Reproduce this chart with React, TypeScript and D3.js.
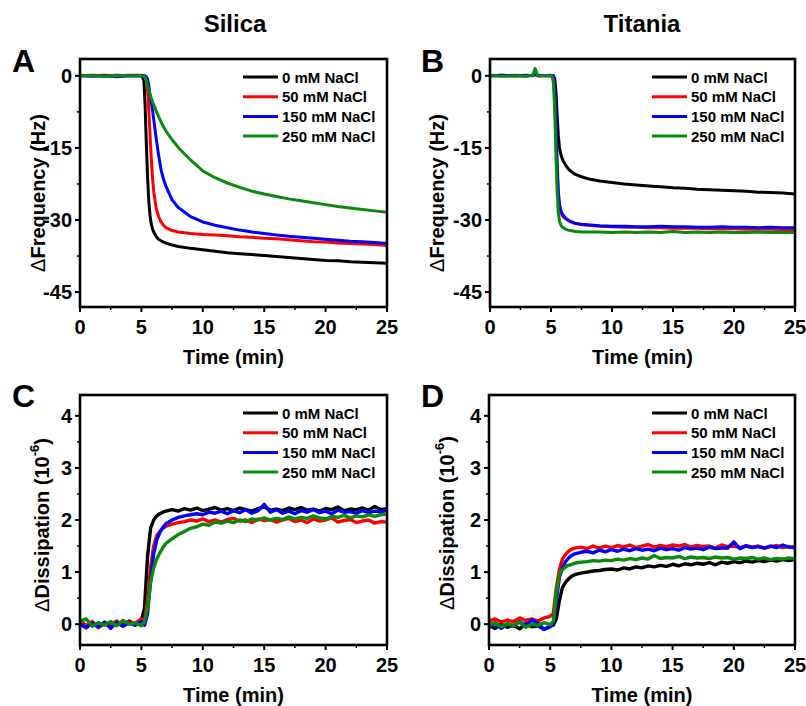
import React, { useEffect, useRef } from "react";
import * as d3 from "d3";

const SERIES_NAMES = ["0 mM NaCl", "50 mM NaCl", "150 mM NaCl", "250 mM NaCl"];
const SERIES_COLORS = ["#000000", "#ff0000", "#0000ff", "#0a8a0a"];

const X_TICKS = [0, 5, 10, 15, 20, 25];
const X_MINOR = [2.5, 7.5, 12.5, 17.5, 22.5];
const FREQ_TICKS = [0, -15, -30, -45];
const FREQ_MINOR = [-7.5, -22.5, -37.5];
const DISS_TICKS = [0, 1, 2, 3, 4];
const DISS_MINOR = [0.5, 1.5, 2.5, 3.5];

// time (min), silica frequency
const T_FREQ_A = [0, 1, 2, 3, 4, 5, 5.1, 5.2, 5.3, 5.4, 5.5, 5.6, 5.7, 5.8, 5.9, 6, 6.2, 6.4, 6.6, 6.8, 7, 7.5, 8, 9, 10,
  11, 12, 13, 14, 15, 16, 17, 18, 19, 20, 21, 22, 23, 24, 25];
const FREQ_A_0 = [0, 0.1, 0, 0.1, 0, 0, -0.3, -1, -6, -14, -21, -26, -29, -30.8, -31.8, -32.5, -33.4, -34.0, -34.3, -34.6, -34.8,
  -35.2, -35.5, -35.9, -36.2, -36.5, -36.8, -37.0, -37.2, -37.4, -37.6, -37.8, -38.0, -38.2, -38.4, -38.5, -38.7, -38.8, -38.9, -39.0];
const FREQ_A_50 = [0.1, 0, 0.1, 0, 0.1, 0.1, 0.1, 0, -0.3, -1, -3, -7, -12, -17, -21, -24, -27.5, -29.3, -30.4, -31.1, -31.6,
  -32.2, -32.5, -32.8, -33.0, -33.1, -33.3, -33.5, -33.6, -33.8, -33.9, -34.1, -34.3, -34.5, -34.6, -34.8, -34.9, -35.0, -35.1, -35.3];
const FREQ_A_150 = [0, -0.1, 0, -0.2, 0, 0, 0, 0, 0, -0.2, -0.6, -2, -4, -5.5, -7, -9, -13, -16.5, -19.5, -21.5, -23,
  -25.8, -27.4, -29.3, -30.4, -31.1, -31.6, -32.1, -32.5, -32.8, -33.1, -33.4, -33.6, -33.8, -34.0, -34.2, -34.4, -34.5, -34.7, -34.9];
const FREQ_A_250 = [0, 0, -0.1, 0, 0, 0, 0, -0.1, -0.3, -1, -2, -3, -3.8, -4.6, -5.3, -6, -7.3, -8.5, -9.6, -10.6, -11.5,
  -13.3, -14.9, -17.5, -19.8, -21.2, -22.3, -23.2, -24.0, -24.6, -25.1, -25.6, -26.0, -26.4, -26.8, -27.2, -27.5, -27.8, -28.1, -28.4];

// time (min), titania frequency
const T_FREQ_B = [0, 1, 2, 3, 3.5, 3.7, 3.9, 4, 5, 5.1, 5.2, 5.3, 5.4, 5.5, 5.6, 5.7, 5.8, 5.9, 6, 6.2, 6.4, 6.6, 6.8, 7, 7.5, 8, 9, 10,
  11, 12, 13, 14, 15, 16, 17, 18, 19, 20, 21, 22, 23, 24, 25];
const FREQ_B_0 = [0, 0.1, 0, 0, 0.1, 0.4, 0.1, 0, 0, 0, 0, -0.5, -3, -8, -12.5, -15, -16.3, -17.1, -17.7, -18.6, -19.3, -19.8, -20.2, -20.5,
  -21.0, -21.4, -21.9, -22.2, -22.5, -22.7, -22.9, -23.1, -23.3, -23.4, -23.6, -23.7, -23.8, -23.9, -24.0, -24.2, -24.3, -24.4, -24.6];
const FREQ_B_50 = [0.1, 0, 0.1, 0, 0.1, 0.3, 0.1, 0, 0.1, 0, -0.5, -4, -12, -20, -25, -27.3, -28.3, -28.9, -29.3, -29.8, -30.1, -30.4, -30.6, -30.7,
  -31.0, -31.1, -31.3, -31.4, -31.5, -31.5, -31.6, -31.6, -31.7, -31.7, -31.7, -31.8, -31.8, -31.8, -31.9, -31.9, -31.9, -32.0, -32.0];
const FREQ_B_150 = [0, 0.1, 0, 0.1, 0, 0.3, 0, 0.1, 0, 0, 0, -2, -9, -18, -24, -26.8, -28, -28.6, -29.0, -29.6, -30.0, -30.3, -30.5, -30.7,
  -30.9, -31.0, -31.2, -31.3, -31.3, -31.4, -31.4, -31.3, -31.4, -31.4, -31.5, -31.5, -31.4, -31.5, -31.5, -31.6, -31.5, -31.6, -31.6];
const FREQ_B_250 = [0, -0.1, 0, -0.1, 0.1, 1.5, 0.1, 0, 0, -0.2, -1.5, -7, -16, -24, -28.5, -30.3, -31.0, -31.4, -31.6, -31.9, -32.1, -32.2, -32.3, -32.4,
  -32.5, -32.5, -32.5, -32.6, -32.5, -32.6, -32.5, -32.6, -32.4, -32.6, -32.5, -32.6, -32.5, -32.6, -32.6, -32.5, -32.6, -32.6, -32.6];

// time (min), dissipation (both substrates)
const T_DISS = [0, 0.5, 1, 1.5, 2, 2.5, 3, 3.5, 4, 4.5, 5, 5.25, 5.5, 5.75, 6, 6.25, 6.5, 6.75, 7,
  7.5, 8, 8.5, 9, 9.5, 10, 10.5, 11, 11.5, 12, 12.5, 13, 13.5, 14, 14.5, 15, 15.5, 16, 16.5, 17, 17.5,
  18, 18.5, 19, 19.5, 20, 20.5, 21, 21.5, 22, 22.5, 23, 23.5, 24, 24.5, 25];
const DISS_C_0 = [0.04, -0.05, 0.03, -0.06, 0.02, -0.04, 0.05, -0.02, 0.06, 0.0, 0.08,
  0.3, 1.3, 1.85, 2.0, 2.08, 2.12, 2.15, 2.17,
  2.2, 2.17, 2.22, 2.19, 2.23, 2.18, 2.21, 2.24, 2.19, 2.22, 2.18, 2.23, 2.2, 2.17, 2.22, 2.25, 2.19, 2.21,
  2.18, 2.23, 2.2, 2.24, 2.19, 2.21, 2.17, 2.22, 2.2, 2.25, 2.18, 2.21, 2.2, 2.23, 2.19, 2.26, 2.2, 2.22];
const DISS_C_50 = [0.08, -0.03, 0.05, -0.07, 0.03, 0.0, 0.06, -0.03, 0.04, 0.02, 0.1,
  0.05, 0.45, 1.1, 1.5, 1.7, 1.78, 1.84, 1.88,
  1.92, 1.95, 1.97, 2.0, 1.98, 2.02, 1.97, 2.0, 1.96, 2.01, 2.03, 1.98, 2.0, 1.95, 2.02, 1.99, 2.01, 1.96,
  2.0, 2.03, 1.97, 2.0, 1.95, 2.02, 1.98, 2.0, 2.04, 1.96, 1.99, 2.01, 1.95, 1.98, 2.0, 1.94, 1.97, 1.96];
const DISS_C_150 = [0.0, -0.07, 0.02, -0.05, 0.04, -0.08, 0.03, -0.04, 0.02, -0.02, 0.05,
  -0.02, 0.2, 0.85, 1.35, 1.62, 1.76, 1.86, 1.93,
  2.0, 2.05, 2.08, 2.1, 2.12, 2.1, 2.15, 2.13, 2.17, 2.12, 2.18, 2.14, 2.2, 2.13, 2.18, 2.3, 2.15, 2.2,
  2.13, 2.17, 2.12, 2.18, 2.15, 2.2, 2.14, 2.17, 2.12, 2.19, 2.15, 2.16, 2.13, 2.18, 2.14, 2.17, 2.15, 2.2];
const DISS_C_250 = [0.06, 0.1, -0.04, 0.03, -0.02, 0.05, -0.03, 0.07, 0.0, 0.02, -0.03,
  0.05, 0.3, 0.8, 1.08, 1.25, 1.37, 1.47, 1.55,
  1.64, 1.72, 1.78, 1.84, 1.87, 1.92, 1.9, 1.96, 1.94, 1.98, 1.95, 2.0, 1.97, 2.02, 2.0, 2.04, 2.0, 2.03,
  2.01, 2.06, 2.02, 2.05, 2.03, 2.08, 2.04, 2.02, 2.07, 2.05, 2.09, 2.04, 2.08, 2.06, 2.1, 2.07, 2.1, 2.12];
const DISS_D_0 = [-0.03, -0.08, 0.0, -0.06, -0.02, -0.09, 0.01, -0.05, -0.03, -0.1, -0.04,
  -0.02, 0.1, 0.45, 0.7, 0.8, 0.87, 0.92, 0.95,
  0.98, 1.0, 1.02, 1.03, 1.05, 1.06, 1.04, 1.08, 1.06, 1.1, 1.08, 1.12, 1.1, 1.13, 1.11, 1.15, 1.12, 1.16,
  1.14, 1.17, 1.15, 1.18, 1.14, 1.19, 1.17, 1.2, 1.18, 1.21, 1.19, 1.22, 1.2, 1.23, 1.21, 1.24, 1.22, 1.24];
const DISS_D_50 = [0.06, 0.1, 0.04, 0.08, 0.05, 0.12, 0.07, 0.1, 0.06, 0.12, 0.15,
  0.2, 0.7, 1.05, 1.25, 1.34, 1.4, 1.44, 1.46,
  1.48, 1.45, 1.5, 1.46, 1.5, 1.47, 1.51, 1.48, 1.52, 1.47, 1.5, 1.53, 1.48, 1.51, 1.49, 1.52, 1.5, 1.53,
  1.48, 1.51, 1.49, 1.5, 1.46, 1.52, 1.49, 1.5, 1.47, 1.51, 1.48, 1.5, 1.46, 1.49, 1.51, 1.47, 1.49, 1.48];
const DISS_D_150 = [-0.06, 0.02, -0.08, 0.0, -0.04, 0.05, -0.03, 0.08, 0.02, -0.1, -0.05,
  0.0, 0.45, 0.9, 1.08, 1.2, 1.27, 1.32, 1.35,
  1.38, 1.4, 1.37, 1.42, 1.39, 1.43, 1.4, 1.44, 1.41, 1.45, 1.42, 1.44, 1.41, 1.46, 1.43, 1.45, 1.42, 1.47,
  1.44, 1.46, 1.43, 1.48, 1.45, 1.46, 1.46, 1.58, 1.45, 1.5, 1.47, 1.49, 1.46, 1.5, 1.47, 1.52, 1.48, 1.47];
const DISS_D_250 = [-0.02, 0.03, -0.05, 0.01, -0.03, 0.04, -0.06, 0.0, -0.02, 0.03, -0.01,
  0.05, 0.6, 0.95, 1.05, 1.1, 1.13, 1.15, 1.17,
  1.19, 1.2, 1.22, 1.21, 1.23, 1.22, 1.25, 1.23, 1.26, 1.24, 1.27, 1.25, 1.32, 1.26, 1.28, 1.27, 1.3, 1.26,
  1.29, 1.27, 1.28, 1.26, 1.29, 1.27, 1.28, 1.25, 1.27, 1.26, 1.28, 1.25, 1.27, 1.24, 1.26, 1.25, 1.27, 1.25];

const FONT = "'Liberation Sans', Arial, sans-serif";

const App = () => {
  const ref = useRef(null);

  useEffect(() => {
    const svg = d3.select(ref.current);
    svg.selectAll("*").remove();

    const panels = [
      {
        id: "A", left: 80, right: 387, top: 59, bottom: 307, yDomain: [-48.1, 3.5],
        yTicks: FREQ_TICKS, yMinor: FREQ_MINOR, t: T_FREQ_A,
        series: [FREQ_A_0, FREQ_A_50, FREQ_A_150, FREQ_A_250],
        letterX: 12, letterY: 72, ylabX: 38, ylabY: 193, kind: "freq",
        legX: 243, legY: 77, title: "Silica", titleX: 235,
      },
      {
        id: "B", left: 490, right: 795, top: 59, bottom: 307, yDomain: [-48.1, 3.5],
        yTicks: FREQ_TICKS, yMinor: FREQ_MINOR, t: T_FREQ_B,
        series: [FREQ_B_0, FREQ_B_50, FREQ_B_150, FREQ_B_250],
        letterX: 421, letterY: 72, ylabX: 437, ylabY: 193, kind: "freq",
        legX: 652, legY: 77, title: "Titania", titleX: 642,
      },
      {
        id: "C", left: 80, right: 387, top: 395, bottom: 645, yDomain: [-0.4, 4.4],
        yTicks: DISS_TICKS, yMinor: DISS_MINOR, t: T_DISS,
        series: [DISS_C_0, DISS_C_50, DISS_C_150, DISS_C_250],
        letterX: 12, letterY: 407, ylabX: 42, ylabY: 525, kind: "diss",
        legX: 243, legY: 413,
      },
      {
        id: "D", left: 489, right: 795, top: 395, bottom: 645, yDomain: [-0.4, 4.4],
        yTicks: DISS_TICKS, yMinor: DISS_MINOR, t: T_DISS,
        series: [DISS_D_0, DISS_D_50, DISS_D_150, DISS_D_250],
        letterX: 421, letterY: 407, ylabX: 447, ylabY: 523, kind: "diss",
        legX: 652, legY: 413,
      },
    ];

    panels.forEach((p) => {
      const x = d3.scaleLinear().domain([0, 25]).range([p.left, p.right]);
      const y = d3.scaleLinear().domain(p.yDomain).range([p.bottom, p.top]);
      const g = svg.append("g").attr("font-family", FONT).attr("font-weight", "bold");

      g.append("clipPath").attr("id", `clip-${p.id}`)
        .append("rect")
        .attr("x", p.left).attr("y", p.top)
        .attr("width", p.right - p.left).attr("height", p.bottom - p.top);

      // data lines
      const line = d3.line().x((d) => x(d[0])).y((d) => y(d[1]));
      const lines = g.append("g").attr("clip-path", `url(#clip-${p.id})`);
      p.series.forEach((vals, i) => {
        lines.append("path")
          .datum(p.t.map((tt, k) => [tt, vals[k]]))
          .attr("d", line)
          .attr("fill", "none")
          .attr("stroke", SERIES_COLORS[i])
          .attr("stroke-width", p.kind === "diss" ? 3.4 : 3)
          .attr("stroke-linejoin", "round");
      });

      // ticks (outward)
      X_TICKS.forEach((v) => {
        g.append("line").attr("x1", x(v)).attr("x2", x(v))
          .attr("y1", p.bottom).attr("y2", p.bottom + 5)
          .attr("stroke", "#000").attr("stroke-width", 2);
        g.append("text").attr("x", x(v)).attr("y", p.bottom + 27)
          .attr("text-anchor", "middle").attr("font-size", 20).text(v);
      });
      X_MINOR.forEach((v) => {
        g.append("line").attr("x1", x(v)).attr("x2", x(v))
          .attr("y1", p.bottom).attr("y2", p.bottom + 3)
          .attr("stroke", "#000").attr("stroke-width", 1.5);
      });
      p.yTicks.forEach((v) => {
        g.append("line").attr("x1", p.left - 5).attr("x2", p.left)
          .attr("y1", y(v)).attr("y2", y(v))
          .attr("stroke", "#000").attr("stroke-width", 2);
        g.append("text").attr("x", p.left - 8).attr("y", y(v))
          .attr("text-anchor", "end").attr("dominant-baseline", "central")
          .attr("font-size", 20).text(v);
      });
      p.yMinor.forEach((v) => {
        g.append("line").attr("x1", p.left - 3).attr("x2", p.left)
          .attr("y1", y(v)).attr("y2", y(v))
          .attr("stroke", "#000").attr("stroke-width", 1.5);
      });

      // frame
      g.append("rect")
        .attr("x", p.left).attr("y", p.top)
        .attr("width", p.right - p.left).attr("height", p.bottom - p.top)
        .attr("fill", "none").attr("stroke", "#000").attr("stroke-width", 2.6);

      // axis titles
      g.append("text")
        .attr("x", (p.left + p.right) / 2).attr("y", p.bottom + 57)
        .attr("text-anchor", "middle").attr("font-size", 20).text("Time (min)");

      const yl = g.append("text")
        .attr("transform", `translate(${p.ylabX},${p.ylabY}) rotate(-90)`)
        .attr("text-anchor", "middle").attr("dominant-baseline", "central")
        .attr("font-size", 20);
      yl.append("tspan").attr("font-weight", "normal").text("\u0394");
      if (p.kind === "freq") {
        yl.append("tspan").text("Frequency (Hz)");
      } else {
        yl.append("tspan").text("Dissipation (10");
        yl.append("tspan").attr("font-size", 13).attr("dy", -8).text("-6");
        yl.append("tspan").attr("dy", 8).text(")");
      }

      // panel letter
      g.append("text").attr("x", p.letterX).attr("y", p.letterY)
        .attr("font-size", 32).text(p.id);

      if (p.title) {
        g.append("text").attr("x", p.titleX).attr("y", 32)
          .attr("text-anchor", "middle").attr("font-size", 24).text(p.title);
      }

      // legend
      SERIES_NAMES.forEach((name, i) => {
        const ly = p.legY + i * 19.7;
        g.append("line").attr("x1", p.legX).attr("x2", p.legX + 35)
          .attr("y1", ly).attr("y2", ly)
          .attr("stroke", SERIES_COLORS[i]).attr("stroke-width", 3);
        g.append("text").attr("x", p.legX + 39).attr("y", ly)
          .attr("dominant-baseline", "central").attr("font-size", 15).text(name);
      });
    });
  }, []);

  return (
    <svg
      ref={ref}
      width={806}
      height={706}
      style={{ position: "absolute", left: 0, top: 0, background: "#fff" }}
    />
  );
};

export default App;
